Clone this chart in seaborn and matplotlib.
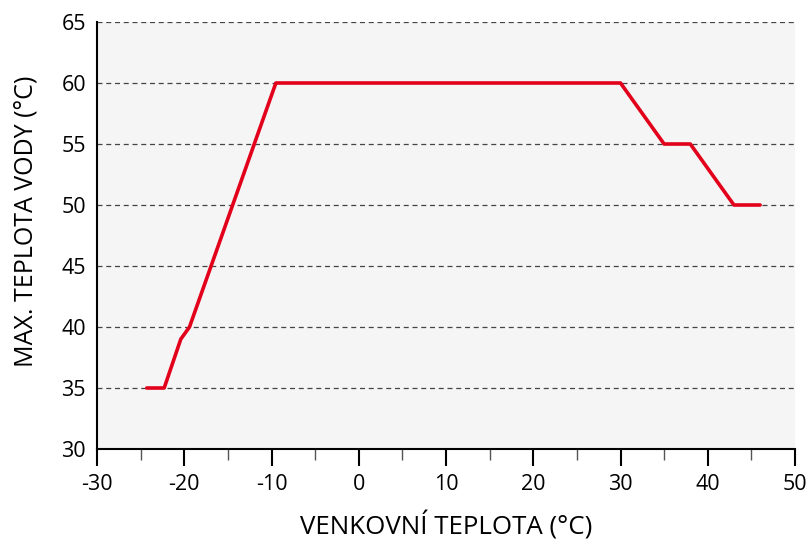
import matplotlib
matplotlib.use("Agg")
import matplotlib.pyplot as plt
from matplotlib.ticker import MultipleLocator
import seaborn as sns
import pandas as pd

# values
outdoor_temp = [-24.3, -22.3, -20.4, -19.4, -9.5, 30, 35, 38, 43, 46]
max_water_temp = [35, 35, 39, 40, 60, 60, 55, 55, 50, 50]

x_ticks = [-30, -20, -10, 0, 10, 20, 30, 40, 50]
y_ticks = [30, 35, 40, 45, 50, 55, 60, 65]

sns.set_style("white")
plt.rcParams['font.family'] = ['Open Sans', 'DejaVu Sans']
plt.rcParams['axes.unicode_minus'] = False

df = pd.DataFrame({"x": outdoor_temp, "y": max_water_temp})

fig = plt.figure(figsize=(8.11, 5.42), dpi=100)
ax = fig.add_axes([97 / 811, 1 - 449 / 542, 698 / 811, 427 / 542])
ax.set_facecolor("#f5f5f5")

sns.lineplot(data=df, x="x", y="y", color="#e2001a", linewidth=2.6,
             sort=False, ax=ax)

ax.set_xlim(-30, 50)
ax.set_ylim(30, 65)
ax.set_xticks(x_ticks)
ax.set_yticks(y_ticks)
ax.xaxis.set_minor_locator(MultipleLocator(5))

for y in y_ticks[1:]:
    ax.axhline(y, color="#444444", linestyle=(0, (4, 3)), linewidth=0.9, zorder=0)

for side in ["top", "right"]:
    ax.spines[side].set_visible(False)
for side in ["left", "bottom"]:
    ax.spines[side].set_color("black")
    ax.spines[side].set_linewidth(1.5)

ax.tick_params(axis="x", which="major", length=12, width=1.5, color="black",
               labelsize=15.5, labelcolor="black", pad=6, direction="out", bottom=True)
ax.tick_params(axis="x", which="minor", length=8, width=1.0, color="#555555",
               direction="out", bottom=True)
ax.tick_params(axis="y", length=0, labelsize=15.5, labelcolor="black", pad=8)

ax.set_xlabel("VENKOVNÍ TEPLOTA (°C)", fontsize=18.6, labelpad=12, color="black")
ax.set_ylabel("MAX. TEPLOTA VODY (°C)", fontsize=18, color="black")
ax.yaxis.set_label_coords(-0.084, 0.534)

fig.savefig("out.png", dpi=100)
